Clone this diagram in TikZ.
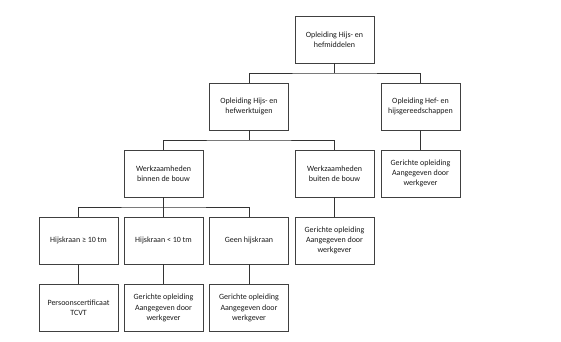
\documentclass[tikz,border=0pt]{standalone}
\usepackage{fontspec}
\setmainfont{Carlito}
\begin{document}
\begin{tikzpicture}[x=1pt,y=-1pt,
  box/.style={draw=black!75, line width=0.6pt, minimum width=79pt, minimum height=47pt,
    inner sep=1pt, align=center, text=black!90, font=\fontsize{8}{10.3}\selectfont},
  conn/.style={draw=black!80, line width=0.6pt}]
\useasboundingbox (0,0) rectangle (561,341);
\node[box] (top) at (334.5,39.5) {Opleiding Hijs- en\\hefmiddelen};
\node[box] (werk) at (249,106.5) {Opleiding Hijs- en\\hefwerktuigen};
\node[box] (gereed) at (420.5,106.5) {Opleiding Hef- en\\hijsgereedschappen};
\node[box] (binnen) at (163.5,173.5) {Werkzaamheden\\binnen de bouw};
\node[box] (buiten) at (334.5,173.5) {Werkzaamheden\\buiten de bouw};
\node[box] (gerA) at (420.5,173.5) {Gerichte opleiding\\Aangegeven door\\werkgever};
\node[box] (hk1) at (78.5,240.5) {Hijskraan ≥ 10 tm};
\node[box] (hk2) at (163.5,240.5) {Hijskraan < 10 tm};
\node[box] (geen) at (249,240.5) {Geen hijskraan};
\node[box] (gerB) at (334.5,240.5) {Gerichte opleiding\\Aangegeven door\\werkgever};
\node[box] (pers) at (78.5,308) {Persoonscertificaat\\TCVT};
\node[box] (gerC) at (163.5,308) {Gerichte opleiding\\Aangegeven door\\werkgever};
\node[box] (gerD) at (249,308) {Gerichte opleiding\\Aangegeven door\\werkgever};
\coordinate (b1) at (334.5,73);
\coordinate (b2) at (249,140);
\coordinate (b3) at (163.5,207);
\draw[conn] (top.south) -- (b1);
\draw[conn] (werk.north) |- (b1) -| (gereed.north);
\draw[conn] (werk.south) -- (b2);
\draw[conn] (binnen.north) |- (b2) -| (buiten.north);
\draw[conn] (gereed.south) -- (gerA.north);
\draw[conn] (binnen.south) -- (b3);
\draw[conn] (hk1.north) |- (b3) -| (geen.north);
\draw[conn] (b3) -- (hk2.north);
\draw[conn] (buiten.south) -- (gerB.north);
\draw[conn] (hk1.south) -- (pers.north);
\draw[conn] (hk2.south) -- (gerC.north);
\draw[conn] (geen.south) -- (gerD.north);
\end{tikzpicture}
\end{document}
